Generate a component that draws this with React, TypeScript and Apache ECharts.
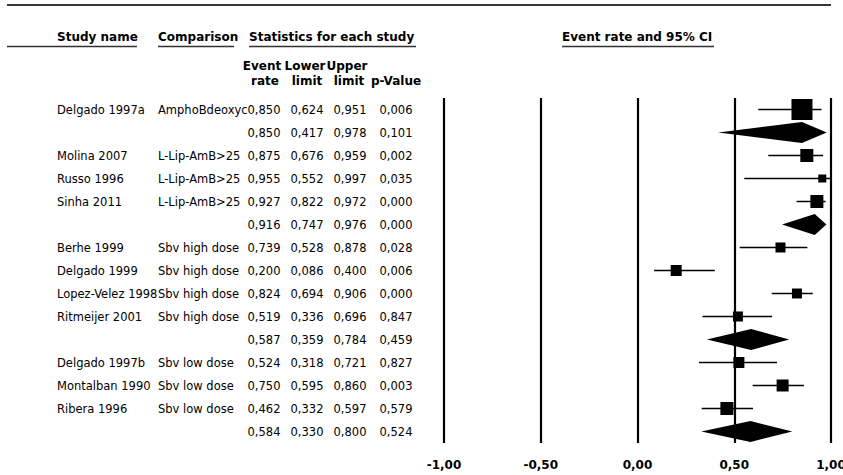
import React, { useEffect, useRef } from "react";
import * as echarts from "echarts";

const studyNames = [
  "Delgado 1997a", "", "Molina 2007", "Russo 1996", "Sinha 2011", "",
  "Berhe 1999", "Delgado 1999", "Lopez-Velez 1998", "Ritmeijer 2001", "",
  "Delgado 1997b", "Montalban 1990", "Ribera 1996", "",
];
const comparisons = [
  "AmphoBdeoxyc", "", "L-Lip-AmB>25", "L-Lip-AmB>25", "L-Lip-AmB>25", "",
  "Sbv high dose", "Sbv high dose", "Sbv high dose", "Sbv high dose", "",
  "Sbv low dose", "Sbv low dose", "Sbv low dose", "",
];
const eventRate = [0.850, 0.850, 0.875, 0.955, 0.927, 0.916, 0.739, 0.200, 0.824, 0.519, 0.587, 0.524, 0.750, 0.462, 0.584];
const lowerLimit = [0.624, 0.417, 0.676, 0.552, 0.822, 0.747, 0.528, 0.086, 0.694, 0.336, 0.359, 0.318, 0.595, 0.332, 0.330];
const upperLimit = [0.951, 0.978, 0.959, 0.997, 0.972, 0.976, 0.878, 0.400, 0.906, 0.696, 0.784, 0.721, 0.860, 0.597, 0.800];
const pValues = ["0,006", "0,101", "0,002", "0,035", "0,000", "0,000", "0,028", "0,006", "0,000", "0,847", "0,459", "0,827", "0,003", "0,579", "0,524"];
const isSummary = [false, true, false, false, false, true, false, false, false, false, true, false, false, false, true];
const markerSize = [21, 0, 13, 8, 13, 0, 10, 11, 10, 10, 0, 11, 12, 13, 0];
const xTicks = [-1, -0.5, 0, 0.5, 1];

const FAMILY = "'DejaVu Sans', Tahoma, Verdana, sans-serif";
const REG = `11.5px ${FAMILY}`;
const BOLD = `bold 12px ${FAMILY}`;
const fmt = (v: number, d: number) => v.toFixed(d).replace(".", ",");

export default function App() {
  const ref = useRef<HTMLDivElement>(null);
  useEffect(() => {
    const chart = echarts.init(ref.current!, null, { renderer: "svg" });
    const rows = studyNames.map((_, i) => String(i));
    const markData = eventRate.map((v, i) => [i, v, lowerLimit[i], upperLimit[i], isSummary[i] ? 1 : 0, markerSize[i]]);
    const tableData = studyNames.map((_, i) => [0, i]);

    const txt = (text: string, x: number, y: number, align: string, font: string) => ({
      type: "text",
      x, y,
      style: {
        text, font, fill: "#000",
        align, textAlign: align,
        verticalAlign: "middle", textVerticalAlign: "middle",
      },
    });
    const ln = (x1: number, y1: number, x2: number, y2: number, w: number) => ({
      type: "line",
      shape: { x1, y1, x2, y2 },
      style: { stroke: "#333", lineWidth: w },
    });

    chart.setOption({
      animation: false,
      grid: { left: 444, right: 12, top: 98, height: 345, containLabel: false, outerBoundsMode: "none" },
      xAxis: {
        type: "value", min: xTicks[0], max: xTicks[xTicks.length - 1], interval: 0.5,
        axisLine: { show: false }, axisTick: { show: false },
        splitLine: { show: true, lineStyle: { color: "#000", width: 2.2 } },
        axisLabel: {
          formatter: (v: number) => fmt(v, 2),
          fontFamily: FAMILY, fontWeight: "bold", fontSize: 12, color: "#000", margin: 16,
        },
      },
      yAxis: { type: "category", inverse: true, data: rows, show: false },
      graphic: [
        ln(7, 5, 831, 5, 2),
        txt("Study name", 57, 37, "left", BOLD),
        ln(7, 46.5, 137, 46.5, 1.5),
        txt("Comparison", 158, 37, "left", BOLD),
        ln(158, 46.5, 234, 46.5, 1.5),
        txt("Statistics for each study", 249, 37, "left", BOLD),
        ln(249, 46.5, 416, 46.5, 1.5),
        txt("Event rate and 95% CI", 562, 37, "left", BOLD),
        ln(562, 46.5, 714, 46.5, 1.5),
        txt("Event", 262, 66, "center", BOLD),
        txt("Lower", 305, 66, "center", BOLD),
        txt("Upper", 347, 66, "center", BOLD),
        txt("rate", 265, 81, "center", BOLD),
        txt("limit", 307, 81, "center", BOLD),
        txt("limit", 349, 81, "center", BOLD),
        txt("p-Value", 396, 81, "center", BOLD),
      ],
      series: [
        {
          type: "custom",
          silent: true,
          encode: { x: [1, 2, 3], y: 0 },
          data: markData,
          renderItem: (params: any, api: any) => {
            const row = api.value(0);
            const est = api.value(1);
            const lo = api.value(2);
            const hi = api.value(3);
            const summ = api.value(4);
            const size = api.value(5);
            const pE = api.coord([est, row]);
            const pL = api.coord([lo, row]);
            const pH = api.coord([hi, row]);
            if (summ) {
              const h = 10.5;
              return {
                type: "polygon",
                shape: { points: [[pL[0], pE[1]], [pE[0], pE[1] - h], [pH[0], pE[1]], [pE[0], pE[1] + h]] },
                style: { fill: "#000" },
              };
            }
            return {
              type: "group",
              children: [
                { type: "line", shape: { x1: pL[0], y1: pE[1], x2: pH[0], y2: pE[1] }, style: { stroke: "#000", lineWidth: 1.5 } },
                { type: "rect", shape: { x: pE[0] - size / 2, y: pE[1] - size / 2, width: size, height: size }, style: { fill: "#000" } },
              ],
            };
          },
          z: 3,
        },
        {
          type: "custom",
          silent: true,
          encode: { x: 0, y: 1 },
          data: tableData,
          renderItem: (params: any, api: any) => {
            const i = api.value(1);
            const y = api.coord([0, i])[1];
            return {
              type: "group",
              children: [
                txt(studyNames[i], 57, y, "left", REG),
                txt(comparisons[i], 158, y, "left", REG),
                txt(fmt(eventRate[i], 3), 264, y, "center", REG),
                txt(fmt(lowerLimit[i], 3), 307, y, "center", REG),
                txt(fmt(upperLimit[i], 3), 350, y, "center", REG),
                txt(pValues[i], 396, y, "center", REG),
              ],
            };
          },
        },
      ],
    });
    return () => chart.dispose();
  }, []);
  return (
    <div
      ref={ref}
      style={{ position: "fixed", left: 0, top: 0, width: 843, height: 475, background: "#fff" }}
    />
  );
}
